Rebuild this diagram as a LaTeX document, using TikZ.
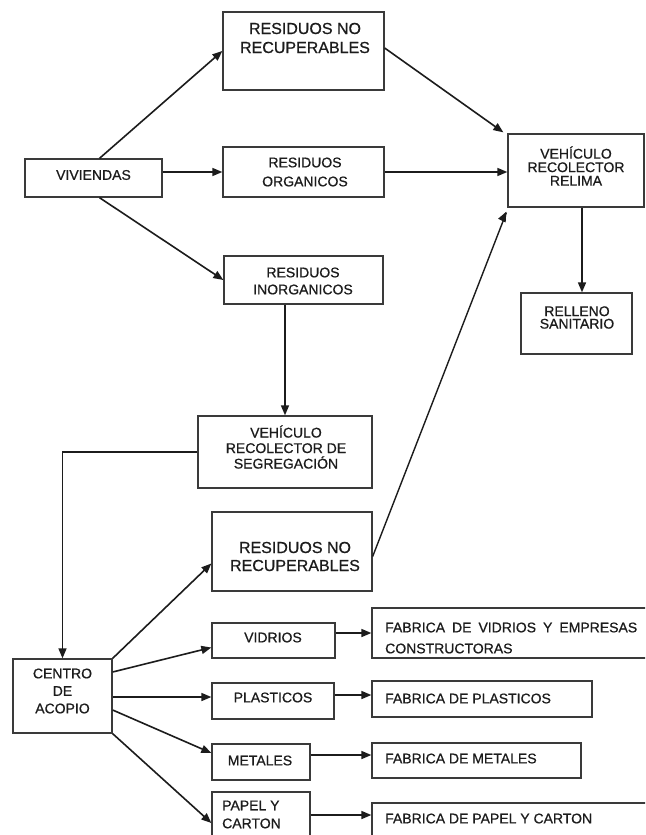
\documentclass[tikz,border=0pt]{standalone}
\usepackage{fontspec}
\setmainfont{Liberation Sans}
\newfontfamily\scanfont{Liberation Sans}[FakeBold=0.7]
\usetikzlibrary{arrows.meta,calc}
\definecolor{ink}{HTML}{1C1C1C}
\definecolor{edge}{HTML}{3A3A3A}
\begin{document}
\begin{tikzpicture}[x=1pt,y=-1pt,
  box/.style 2 args={draw=edge, line width=1.3pt, inner sep=0pt, minimum width=#1, minimum height=#2},
  lbl/.style={inner sep=0pt, align=center, text=ink, font=\scanfont\fontsize{14}{#1}\selectfont},
  lbl/.default=17,
  big/.style={inner sep=0pt, align=center, text=ink, font=\scanfont\fontsize{16}{#1}\selectfont},
  big/.default=19,
  arr/.style={draw=ink, line width=1.6pt, -{Triangle[length=10pt,width=8pt]}},
  ln/.style={draw=ink, line width=1.4pt}
]
\useasboundingbox (0,0) rectangle (645,835);
\clip (0,0) rectangle (645,835);
\fill[white] (0,0) rectangle (645,835);

% boxes
\node[box={137pt}{38pt}] (viv) at (93.5,178) {};
\node[box={161pt}{78pt}] (rnr1) at (303.5,51) {};
\node[box={161pt}{50pt}] (org) at (303.5,172) {};
\node[box={159pt}{48pt}] (inorg) at (303.5,280) {};
\node[box={136pt}{73pt}] (relima) at (576,170.5) {};
\node[box={111pt}{61pt}] (rell) at (576.5,323.5) {};
\node[box={174pt}{72pt}] (seg) at (285,452) {};
\node[box={160pt}{79pt}] (rnr2) at (292,551.5) {};
\node[box={99pt}{74pt}] (cen) at (62.5,696) {};
\node[box={123pt}{35pt}] (vid) at (273.5,640.5) {};
\node[box={122pt}{36pt}] (pla) at (273,701) {};
\node[box={98pt}{36pt}] (met) at (261,762) {};
\node[box={98pt}{60pt}] (pap) at (261,822) {};
\node[box={280pt}{50pt}] (fvid) at (512,633) {};
\node[box={220pt}{36pt}] (fpla) at (482,699) {};
\node[box={209pt}{35pt}] (fmet) at (476.5,760.5) {};
\node[box={280pt}{60pt}] (fpap) at (512,833) {};

% labels
\node[lbl] (vivT) at (93.5,175) {VIVIENDAS};
\node[big=19] (rnr1T) at (305,38) {RESIDUOS NO\\RECUPERABLES};
\node[lbl=19] (orgT) at (305,172) {RESIDUOS\\ORGANICOS};
\node[lbl=17] (inorgT) at (303,281) {RESIDUOS\\INORGANICOS};
\node[lbl=13.5] (relimaT) at (576,166) {VEHÍCULO\\RECOLECTOR\\RELIMA};
\node[lbl=12.5] (rellT) at (577,317.5) {RELLENO\\SANITARIO};
\node[lbl=15.5] (segT) at (286,447) {VEHÍCULO\\RECOLECTOR DE\\SEGREGACIÓN};
\node[big=18] (rnr2T) at (295,556.5) {RESIDUOS NO\\RECUPERABLES};
\node[lbl=17.5] (cenT) at (62.5,691) {CENTRO\\DE\\ACOPIO};
\node[lbl] (vidT) at (273,637.5) {VIDRIOS};
\node[lbl] (plaT) at (273,697.5) {PLASTICOS};
\node[lbl] (metT) at (260,760.5) {METALES};
\node[lbl=18, anchor=west, align=left] (papT) at (222,814.5) {PAPEL Y\\CARTON};
\node[lbl=21, anchor=west, align=left] (fvidT) at (385,638) {\makebox[252pt][s]{FABRICA DE VIDRIOS Y EMPRESAS}\\CONSTRUCTORAS};
\node[lbl, anchor=west, align=left] (fplaT) at (385,698.5) {FABRICA DE PLASTICOS};
\node[lbl, anchor=west, align=left] (fmetT) at (385,758.5) {FABRICA DE METALES};
\node[lbl, anchor=west, align=left] (fpapT) at (385,818.5) {FABRICA DE PAPEL Y CARTON};

% connectors
\draw[arr] ($(viv.north)+(6,0)$) -- (rnr1.west);
\draw[arr] (viv.east |- org.west) -- (org.west);
\draw[arr] ($(viv.south)+(6,0)$) -- (inorg.west);
\draw[arr] ($(rnr1.east)+(0,-3)$) -- ($(relima.north west)+(-4,-1)$);
\draw[arr] (org.east) -- (relima.west |- org.east);
\draw[arr] (seg.north |- inorg.south) -- (seg.north);
\draw[arr] ($(relima.south)+(6,0)$) -- ($(rell.north)+(5.5,0)$);
\draw[ln] ($(rnr2.east)+(0,5)$) -- ($(relima.south west)+(-1,5)$);
\draw[arr] ($(relima.south west)+(-2,6)$) -- ($(relima.south west)+(-1,4)$);
\draw[arr] (seg.west) -| (cen.north);
\draw[arr] (cen.north east) -- ($(rnr2.west)+(0,12)$);
\draw[arr] ($(cen.east)+(0,-24)$) -- ($(vid.west)+(0,7)$);
\draw[arr] ($(cen.east)+(0,1)$) -- ($(pla.west)+(0,-4)$);
\draw[arr] ($(cen.east)+(0,14)$) -- ($(met.west)+(0,-9)$);
\draw[arr] (cen.south east) -- ($(pap.west)+(0,1)$);
\draw[arr] (vid.east |- fvid.west) -- (fvid.west);
\draw[arr] ($(pla.east)+(0,-6)$) -- ($(pla.east -| fpla.west)+(0,-6)$);
\draw[arr] ($(met.east)+(0,-7)$) -- ($(met.east -| fmet.west)+(0,-7)$);
\draw[arr] ($(pap.west -| pap.east)+(0,-7)$) -- ($(pap.west -| fpap.west)+(0,-7)$);
\end{tikzpicture}
\end{document}
